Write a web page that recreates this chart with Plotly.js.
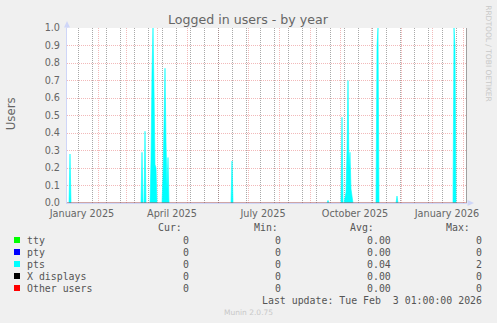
<!DOCTYPE html>
<html>
<head>
<meta charset="utf-8">
<script src="https://cdn.plot.ly/plotly-3.0.1.min.js"></script>
<style>
html,body{margin:0;padding:0;background:#F0F0F0;}
#chart{width:497px;height:323px;}
</style>
</head>
<body>
<div id="chart"></div>
<script>
// ---- data ----
const ptsDates = [
  '2025-01-01','2025-01-03','2025-01-04','2025-01-05',
  '2025-03-16','2025-03-17','2025-03-18',
  '2025-03-19','2025-03-20','2025-03-21',
  '2025-03-25','2025-03-26','2025-03-27','2025-03-28','2025-03-29','2025-03-30','2025-03-31','2025-04-01',
  '2025-04-06','2025-04-07','2025-04-08','2025-04-09','2025-04-10','2025-04-11','2025-04-12','2025-04-13',
  '2025-06-14','2025-06-15','2025-06-16',
  '2025-09-18','2025-09-19','2025-09-20',
  '2025-10-02','2025-10-03','2025-10-04',
  '2025-10-05','2025-10-06','2025-10-07','2025-10-08','2025-10-09','2025-10-10','2025-10-11','2025-10-12','2025-10-13','2025-10-14',
  '2025-11-06','2025-11-07','2025-11-08','2025-11-09',
  '2025-11-26','2025-11-27','2025-11-28',
  '2026-01-22','2026-01-23','2026-01-24','2026-01-25',
  '2026-02-03'
];
const ptsUsers = [
  0,0,0.28,0,
  0,0.29,0,
  0,0.41,0,
  0,0.25,0.75,1.0,0.65,0.22,0.2,0,
  0,0.15,0.45,0.77,0.35,0.08,0.26,0,
  0,0.24,0,
  0,0.015,0,
  0,0.49,0,
  0,0.03,0.06,0.3,0.7,0.2,0.29,0.08,0.03,0,
  0,0.9,1.0,0,
  0,0.04,0,
  0,1.0,0.9,0,
  0
];
const spanDates = ['2025-01-01','2026-02-05'];
const zeroUsers = [0,0];

const monthLabelDates = ['2025-01-16','2025-04-16','2025-07-16','2025-10-16','2026-01-16'];
const monthLabels = ['January 2025','April 2025','July 2025','October 2025','January 2026'];

const seriesNames = ['tty','pty','pts','X displays','Other users'];
const curVals = ['0','0','0','0','0'];
const minVals = ['0','0','0','0','0'];
const avgVals = ['0.00','0.00','0.04','0.00','0.00'];
const maxVals = ['0','0','2','0','0'];
const colHeads = ['Cur:','Min:','Avg:','Max:'];
const lastUpdate = 'Last update: Tue Feb\u00A0\u00A03 01:00:00 2026';

// ---- styles ----
const seriesColors = ['#00FF00','#0000FF','#00FFFF','#000000','#FF0000'];
const L = 67, R = 467, T = 28, B = 203;
const px = x => (x - L) / (R - L);
const py = y => (B - y) / (B - T);
const FONT = 'DejaVu Sans';
const MONO = 'DejaVu Sans Mono';
const TXT = '#666666';
const LEG = '#555555';

const traces = [
  {x: spanDates, y: zeroUsers, type:'scatter', mode:'lines', xaxis:'x3', showlegend:false,
   line:{width:0, color:'rgba(0,0,0,0)'}, hoverinfo:'skip'},
  {x: spanDates, y: zeroUsers, type:'scatter', mode:'lines', fill:'tozeroy',
   fillcolor: seriesColors[0], line:{width:0, color:seriesColors[0]}, hoverinfo:'skip'},
  {x: spanDates, y: zeroUsers, type:'scatter', mode:'lines', fill:'tozeroy',
   fillcolor: seriesColors[1], line:{width:0, color:seriesColors[1]}, hoverinfo:'skip'},
  {x: ptsDates, y: ptsUsers, type:'scatter', mode:'lines', fill:'tozeroy',
   fillcolor: seriesColors[2], line:{width:0.6, color:seriesColors[2]}, hoverinfo:'skip'},
  {x: spanDates, y: zeroUsers, type:'scatter', mode:'lines', fill:'tozeroy',
   fillcolor: seriesColors[3], line:{width:0, color:seriesColors[3]}, hoverinfo:'skip'},
  {x: spanDates, y: zeroUsers, type:'scatter', mode:'lines', xaxis:'x2',
   line:{width:1.2, color:'rgba(255,0,0,0.7)'}, hoverinfo:'skip'}
];

const annotations = [];
function ann(text, x, y, o) {
  annotations.push(Object.assign({
    text: text, xref:'paper', yref:'paper', x: px(x), y: py(y),
    showarrow:false, xanchor:'left', yanchor:'middle', borderpad:0,
    font:{family:MONO, size:9.9, color:LEG}
  }, o || {}));
}
ann('Logged in users - by year', 248.5, 19, {xanchor:'center', font:{family:FONT, size:12.6, color:TXT}});
ann('Users', 10.8, 113.5, {xanchor:'center', textangle:-90, font:{family:FONT, size:11.8, color:TXT}});
ann('RRDTOOL / TOBI OETIKER', 488.3, 53.5, {xanchor:'center', textangle:90, font:{family:FONT, size:7.5, color:'#C8C8C8'}});

const headRight = [182.5, 278.5, 375, 471];
colHeads.forEach((h,i) => ann(h, headRight[i], 227.5, {xanchor:'right'}));
const rowY = [240, 252, 264, 276, 288];
const valRight = [190, 282, 392, 483.2];
const shapes = [];
seriesNames.forEach((n,i) => {
  ann(n, 25.8, rowY[i]);
  ann(curVals[i], valRight[0], rowY[i], {xanchor:'right'});
  ann(minVals[i], valRight[1], rowY[i], {xanchor:'right'});
  ann(avgVals[i], valRight[2], rowY[i], {xanchor:'right'});
  ann(maxVals[i], valRight[3], rowY[i], {xanchor:'right'});
  shapes.push({type:'rect', xref:'paper', yref:'paper', x0:px(14), x1:px(20),
    y0:py(rowY[i]+3), y1:py(rowY[i]-3), fillcolor:seriesColors[i], line:{width:0}, layer:'above'});
});
ann(lastUpdate, 483.2, 300, {xanchor:'right'});
ann('Munin 2.0.75', 248, 312, {xanchor:'center', font:{family:FONT, size:7.5, color:'#C8C8C8'}});

// frame line on the right, axis arrows
shapes.push({type:'line', xref:'paper', yref:'paper', x0:px(466.5), x1:px(466.5), y0:0, y1:1,
  line:{color:'#A0A0A0', width:1}, layer:'above'});
shapes.push({type:'path', xref:'paper', yref:'paper',
  path:`M ${px(64)},${py(27.5)} L ${px(67)},${py(21)} L ${px(70)},${py(27.5)} Z`,
  fillcolor:'#CFD6F8', line:{width:0}, layer:'above'});
shapes.push({type:'line', xref:'paper', yref:'paper', x0:0, x1:0, y0:1, y1:py(26),
  line:{color:'#CFD6F8', width:1}, layer:'above'});
shapes.push({type:'path', xref:'paper', yref:'paper',
  path:`M ${px(467.5)},${py(200)} L ${px(474)},${py(203)} L ${px(467.5)},${py(206)} Z`,
  fillcolor:'#CFD6F8', line:{width:0}, layer:'above'});

const MGRID = 'rgba(222,79,79,0.4)';
const GRID = 'rgba(110,110,110,0.6)';

const layout = {
  width:497, height:323,
  paper_bgcolor:'#F0F0F0', plot_bgcolor:'#FFFFFF',
  margin:{l:L, r:497-R, t:T, b:323-B, pad:0},
  showlegend:false,
  xaxis:{type:'date', range:spanDates, tick0:'2025-01-01', dtick:'M1',
    showgrid:true, gridcolor:MGRID, griddash:'1px,1px', gridwidth:1,
    showticklabels:false, ticks:'', showline:true, linecolor:'#CFD6F8', linewidth:1,
    zeroline:false, fixedrange:true},
  xaxis3:{type:'date', overlaying:'x', anchor:'y', side:'bottom', range:spanDates,
    tick0:'2025-01-12', dtick:14*86400000,
    showgrid:true, gridcolor:GRID, griddash:'1px,1px', gridwidth:1,
    showticklabels:false, ticks:'', showline:false, zeroline:false, fixedrange:true},
  xaxis2:{type:'date', overlaying:'x', anchor:'y', side:'bottom', range:spanDates,
    tickmode:'array', tickvals:monthLabelDates, ticktext:monthLabels,
    showgrid:false, showline:false, zeroline:false, ticks:'', ticklabelstandoff:3,
    tickfont:{family:FONT, size:9.7, color:TXT}, fixedrange:true},
  yaxis:{range:[0,1], tick0:0, dtick:0.1, tickformat:'.1f',
    showgrid:true, gridcolor:MGRID, griddash:'1px,1px', gridwidth:1,
    showline:true, linecolor:'#CFD6F8', linewidth:1, zeroline:false,
    ticks:'outside', ticklen:4, tickcolor:'rgba(0,0,0,0)',
    tickfont:{family:FONT, size:9.7, color:TXT}, fixedrange:true},
  annotations: annotations,
  shapes: shapes
};

Plotly.newPlot('chart', traces, layout, {displayModeBar:false, staticPlot:true});
</script>
</body>
</html>
